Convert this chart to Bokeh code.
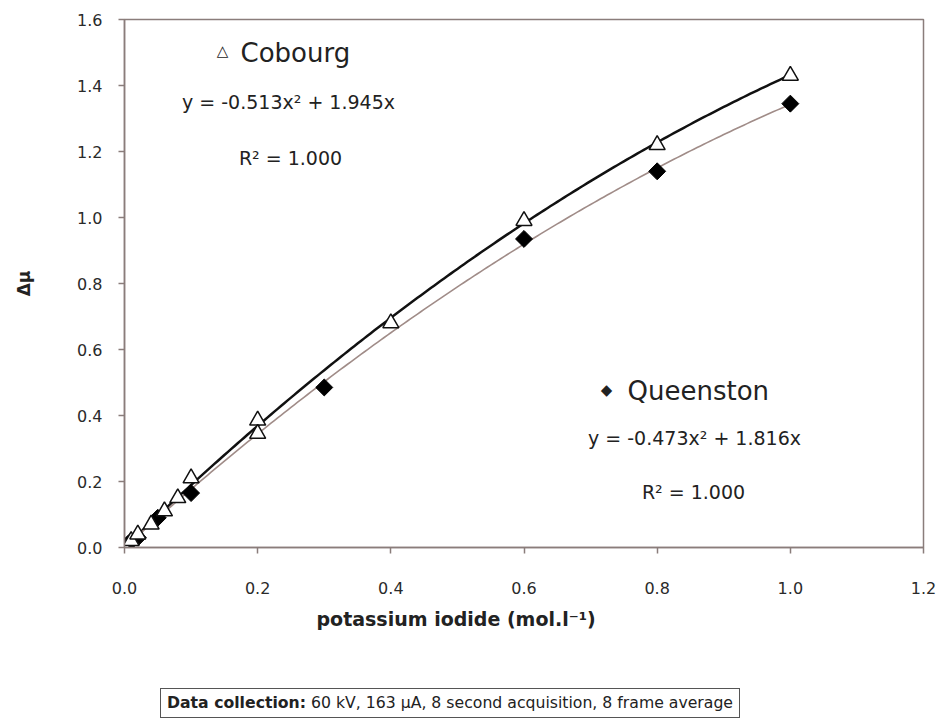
import numpy as np
from bokeh.plotting import figure
from bokeh.models import Label, Range1d, FixedTicker, PrintfTickFormatter, Div, Title
from bokeh.layouts import column
from bokeh.embed import file_html
from bokeh.resources import INLINE

# ---- data ----
cob_x = [0, 0.01, 0.02, 0.04, 0.06, 0.08, 0.1, 0.2, 0.2, 0.4, 0.6, 0.8, 1.0]
cob_y = [0, 0.02, 0.04, 0.07, 0.11, 0.15, 0.21, 0.385, 0.345, 0.68, 0.99, 1.22, 1.43]
que_x = [0, 0.005, 0.01, 0.02, 0.05, 0.1, 0.3, 0.6, 0.8, 1.0]
que_y = [0, 0.01, 0.02, 0.03, 0.09, 0.165, 0.485, 0.935, 1.14, 1.345]
# fitted trend lines as printed on the chart: y = a*x^2 + b*x
cob_fit = [-0.513, 1.945]
que_fit = [-0.473, 1.816]
x_ticks = [0.0, 0.2, 0.4, 0.6, 0.8, 1.0, 1.2]
y_ticks = [0.0, 0.2, 0.4, 0.6, 0.8, 1.0, 1.2, 1.4, 1.6]

FONT = "DejaVu Sans"
AXC = "#8a7d7b"
TXT = "#222222"

# frame geometry (pixels) used to place free text
FL, FR, FT, FB = 124, 923, 19, 547
XMAX, YMAX = 1.2, 1.6


def px2x(px):
    return (px - FL) / ((FR - FL) / XMAX)


def py2y(py):
    return (FB - py) / ((FB - FT) / YMAX)


p = figure(width=945, height=680, output_backend="svg", toolbar_location=None,
           x_range=Range1d(0, XMAX), y_range=Range1d(0, YMAX),
           min_border_left=FL, min_border_right=945 - FR,
           min_border_top=FT, min_border_bottom=680 - FB)
p.grid.visible = False
p.outline_line_color = AXC
p.outline_line_width = 1.5
p.background_fill_color = "white"
p.border_fill_color = "white"

for ax in (p.xaxis[0], p.yaxis[0]):
    ax.axis_line_color = AXC
    ax.axis_line_width = 1.5
    ax.major_tick_line_color = AXC
    ax.major_tick_line_width = 1.5
    ax.major_tick_out = 6
    ax.major_tick_in = 0
    ax.minor_tick_line_color = None
    ax.major_label_text_font = FONT
    ax.major_label_text_font_size = "16px"
    ax.major_label_text_color = "#2a2a2a"
    ax.formatter = PrintfTickFormatter(format="%.1f")

p.xaxis.ticker = FixedTicker(ticks=x_ticks)
p.yaxis.ticker = FixedTicker(ticks=y_ticks)
p.xaxis.major_label_standoff = 28
p.yaxis.major_label_standoff = 16

p.yaxis.axis_label = "Δμ"
p.yaxis.axis_label_text_font = FONT
p.yaxis.axis_label_text_font_style = "bold"
p.yaxis.axis_label_text_font_size = "17px"
p.yaxis.axis_label_text_color = TXT
p.yaxis.axis_label_standoff = 40

# x-axis title, shifted left of the frame centre as in the reference
p.add_layout(Title(text="potassium iodide (mol.l⁻¹)", align="left", offset=192,
                   text_font=FONT, text_font_size="19px", text_font_style="bold",
                   text_color=TXT, standoff=18), "below")

# trend lines
xs = np.linspace(0, 1.0, 201)
p.line(xs, cob_fit[0] * xs ** 2 + cob_fit[1] * xs, line_color="#111111", line_width=2.5)
p.line(xs, que_fit[0] * xs ** 2 + que_fit[1] * xs, line_color="#a08c88", line_width=1.6)

# markers
p.scatter(que_x, que_y, marker="square", angle=np.pi / 4, size=12,
          fill_color="black", line_color="black")
p.scatter(cob_x, cob_y, marker="triangle", size=16, fill_color="white", line_color="#111111",
          line_width=1.5)


def lab(text, px, py, size, align="center", style="normal"):
    p.add_layout(Label(x=px2x(px), y=py2y(py), text=text, text_align=align,
                       text_baseline="middle", text_font=FONT, text_font_size=size,
                       text_font_style=style, text_color=TXT))


lab("△", 222, 50, "15px")
lab("Cobourg", 240, 52, "26px", align="left")
lab("y = -0.513x² + 1.945x", 288, 101, "19px")
lab("R² = 1.000", 290, 157, "19px")

lab("◆", 606, 389, "15px")
lab("Queenston", 627, 390, "26px", align="left")
lab("y = -0.473x² + 1.816x", 694, 437, "19px")
lab("R² = 1.000", 693, 491, "19px")

div = Div(text=(
    "<div style=\"margin-left:155px; margin-top:3px; display:inline-block; "
    "border:1.5px solid #555; padding:3px 6px; font-family:'DejaVu Sans'; "
    "font-size:15.7px; color:#222; white-space:nowrap\">"
    "<b>Data collection:</b> 60 kV, 163 μA, 8 second acquisition, 8 frame average</div>"),
    width=945, height=45)

layout = column(p, div, spacing=0)
open("out.html", "w").write(file_html(layout, INLINE))
